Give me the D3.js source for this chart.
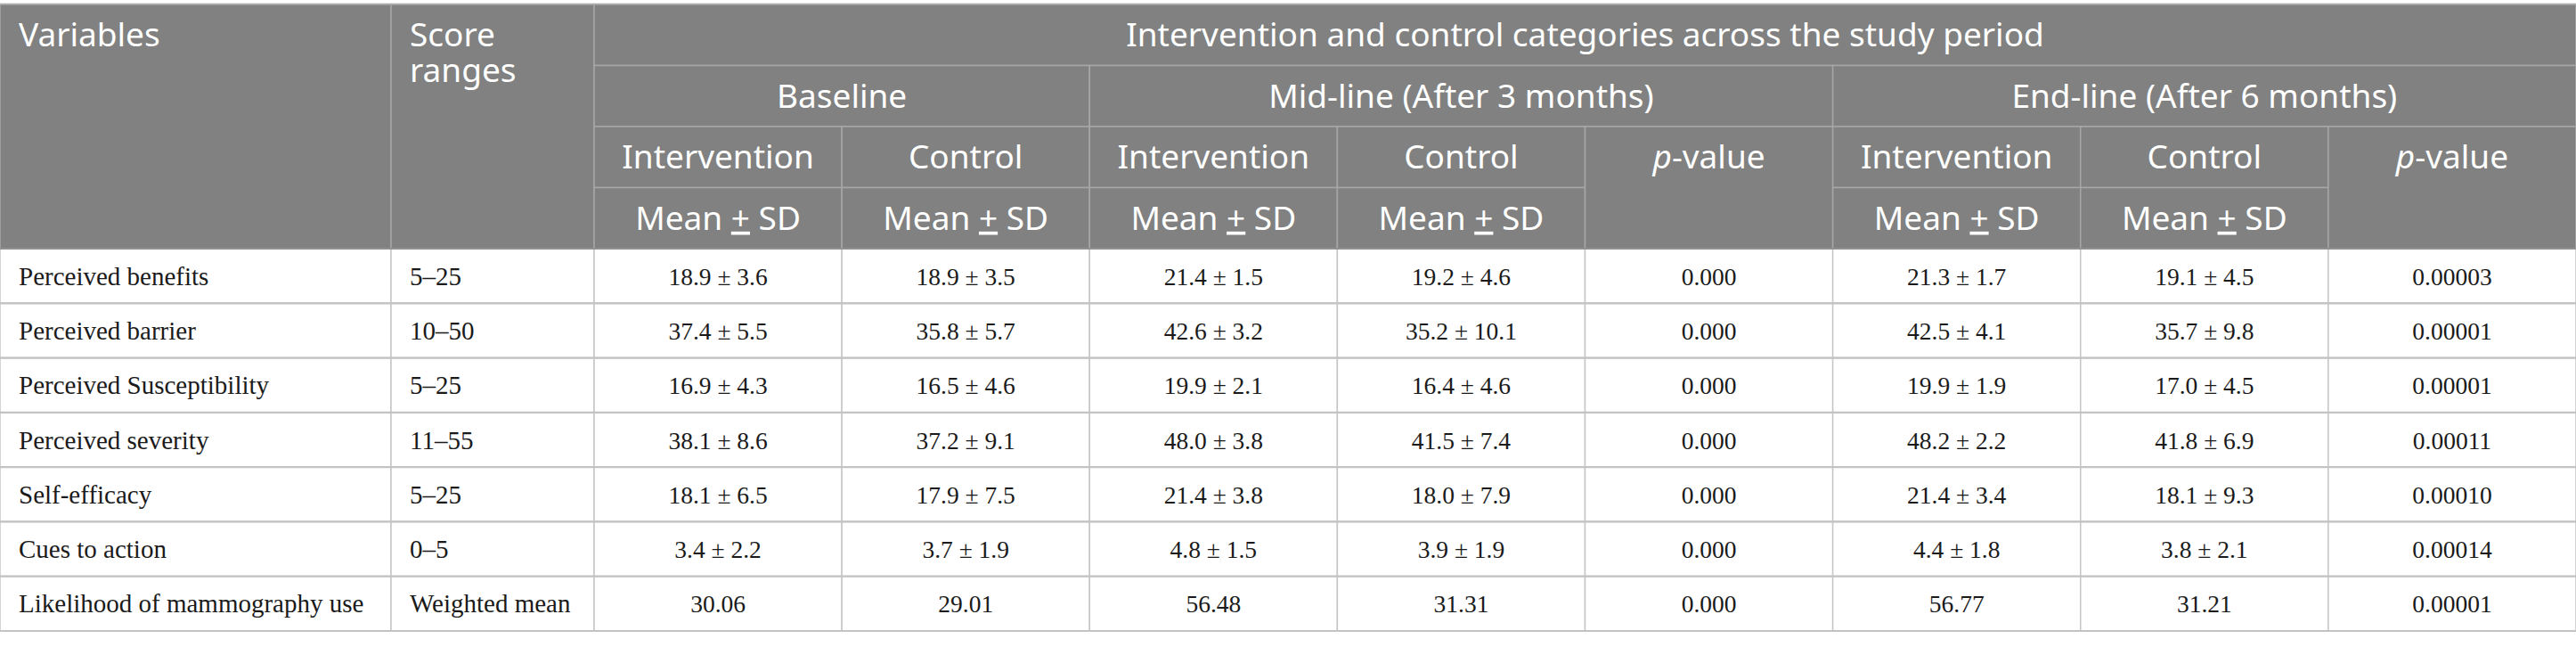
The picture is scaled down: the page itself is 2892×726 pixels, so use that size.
<!DOCTYPE html>
<html>
<head>
<meta charset="utf-8">
<script src="https://cdn.jsdelivr.net/npm/d3@7"></script>
<style>
  html, body { margin: 0; padding: 0; background: #fff; }
  svg { display: block; }
</style>
</head>
<body>
<div id="table"></div>
<script>
// --- Table content ---
const variables = [
  'Perceived benefits',
  'Perceived barrier',
  'Perceived Susceptibility',
  'Perceived severity',
  'Self-efficacy',
  'Cues to action',
  'Likelihood of mammography use'
];
const scoreRanges = ['5–25', '10–50', '5–25', '11–55', '5–25', '0–5', 'Weighted mean'];

const baselineIntervention = ['18.9 ± 3.6', '37.4 ± 5.5', '16.9 ± 4.3', '38.1 ± 8.6', '18.1 ± 6.5', '3.4 ± 2.2', '30.06'];
const baselineControl      = ['18.9 ± 3.5', '35.8 ± 5.7', '16.5 ± 4.6', '37.2 ± 9.1', '17.9 ± 7.5', '3.7 ± 1.9', '29.01'];
const midIntervention      = ['21.4 ± 1.5', '42.6 ± 3.2', '19.9 ± 2.1', '48.0 ± 3.8', '21.4 ± 3.8', '4.8 ± 1.5', '56.48'];
const midControl           = ['19.2 ± 4.6', '35.2 ± 10.1', '16.4 ± 4.6', '41.5 ± 7.4', '18.0 ± 7.9', '3.9 ± 1.9', '31.31'];
const midP                 = ['0.000', '0.000', '0.000', '0.000', '0.000', '0.000', '0.000'];
const endIntervention      = ['21.3 ± 1.7', '42.5 ± 4.1', '19.9 ± 1.9', '48.2 ± 2.2', '21.4 ± 3.4', '4.4 ± 1.8', '56.77'];
const endControl           = ['19.1 ± 4.5', '35.7 ± 9.8', '17.0 ± 4.5', '41.8 ± 6.9', '18.1 ± 9.3', '3.8 ± 2.1', '31.21'];
const endP                 = ['0.00003', '0.00001', '0.00001', '0.00011', '0.00010', '0.00014', '0.00001'];

// header labels
const topTitle = 'Intervention and control categories across the study period';
const periods = ['Baseline', 'Mid-line (After 3 months)', 'End-line (After 6 months)'];
const periodSpans = [2, 3, 3];
const subHeads = ['Intervention', 'Control', 'Intervention', 'Control', 'p-value', 'Intervention', 'Control', 'p-value'];

// --- Layout ---
const width = 2892;
const height = 726;
const headTop = 5;
const headRowH = 68.5;
const bodyTop = headTop + headRowH * 4;
const bodyBottom = 708;
const headFont = '"Noto Sans", "Open Sans", sans-serif';
const bodyFont = '"Liberation Serif", "Times New Roman", serif';
const headSize = 37;
const labelSize = 29;   // first two body columns
const numSize = 27.5;   // numeric body columns

const svg = d3.create('svg')
    .attr('width', width)
    .attr('height', height);

// column edges: two label columns, then eight equal data columns
const dataCols = d3.scaleBand()
    .domain(d3.range(8))
    .range([667, width])
    .paddingInner(0);
const colEdges = [0, 439].concat(d3.range(8).map(i => dataCols(i)), [width]);
const colX = i => colEdges[i];
const colW = (i, span = 1) => colEdges[i + span] - colEdges[i];

const y = d3.scaleBand()
    .domain(d3.range(variables.length))
    .range([bodyTop, bodyBottom]);

// --- Header ---
const headCells = [
  { r: 0, c: 0, rs: 4, cs: 1, lines: ['Variables'], align: 'left' },
  { r: 0, c: 1, rs: 4, cs: 1, lines: ['Score', 'ranges'], align: 'left' },
  { r: 0, c: 2, rs: 1, cs: 8, lines: [topTitle], align: 'middle' }
];
let pc = 2;
periods.forEach((p, i) => {
  headCells.push({ r: 1, c: pc, rs: 1, cs: periodSpans[i], lines: [p], align: 'middle' });
  pc += periodSpans[i];
});
subHeads.forEach((s, i) => {
  const isP = s === 'p-value';
  headCells.push({ r: 2, c: i + 2, rs: isP ? 2 : 1, cs: 1, lines: [s], align: 'middle', p: isP });
  if (!isP) headCells.push({ r: 3, c: i + 2, rs: 1, cs: 1, lines: ['Mean ± SD'], align: 'middle', pm: true });
});

const head = svg.append('g').attr('class', 'head');

head.append('rect')
    .attr('x', 0).attr('y', headTop - 1.5)
    .attr('width', width).attr('height', headRowH * 4 + 1.5)
    .attr('fill', '#c9c9c9');

head.selectAll('rect.cell')
  .data(headCells)
  .join('rect')
    .attr('class', 'cell')
    .attr('x', d => colX(d.c))
    .attr('y', d => headTop + d.r * headRowH)
    .attr('width', d => colW(d.c, d.cs))
    .attr('height', d => d.rs * headRowH)
    .attr('fill', '#808180')
    .attr('stroke', '#a6a7a6')
    .attr('stroke-width', 1.5);

const textX = d => d.align === 'left' ? colX(d.c) + 21 : colX(d.c) + colW(d.c, d.cs) / 2;

// one text per line so wrapped header labels stay separate
const headLines = [];
headCells.forEach(d => d.lines.forEach((l, i) => headLines.push({ cell: d, line: l, i })));

const headText = head.selectAll('text')
  .data(headLines)
  .join('text')
    .attr('font-family', headFont)
    .attr('font-size', headSize)
    .attr('fill', '#ffffff')
    .attr('text-anchor', d => d.cell.align === 'left' ? 'start' : 'middle')
    .attr('x', d => textX(d.cell))
    .attr('y', d => headTop + d.cell.r * headRowH + 47.3 + d.i * 40);

headText.each(function(d) {
  const t = d3.select(this);
  if (d.cell.p) {
    t.append('tspan').attr('font-style', 'italic').text('p');
    t.append('tspan').text('-value');
  } else if (d.cell.pm) {
    t.append('tspan').text('Mean ');
    t.append('tspan').attr('text-decoration', 'underline').text('+');
    t.append('tspan').text(' SD');
  } else {
    t.text(d.line);
  }
});

// --- Body ---
const columns = [variables, scoreRanges, baselineIntervention, baselineControl,
  midIntervention, midControl, midP, endIntervention, endControl, endP];

const bodyCells = [];
variables.forEach((v, r) => {
  columns.forEach((col, c) => bodyCells.push({ r, c, text: col[r] }));
});

const body = svg.append('g').attr('class', 'body');

body.selectAll('rect')
  .data(bodyCells)
  .join('rect')
    .attr('x', d => colX(d.c))
    .attr('y', d => y(d.r))
    .attr('width', d => colW(d.c))
    .attr('height', y.bandwidth())
    .attr('fill', '#ffffff')
    .attr('stroke', '#c6c6c6')
    .attr('stroke-width', 1.5);

// slightly heavier row rules
body.selectAll('line')
  .data(d3.range(variables.length + 1))
  .join('line')
    .attr('x1', 0).attr('x2', width)
    .attr('y1', i => i < variables.length ? y(i) : bodyBottom)
    .attr('y2', i => i < variables.length ? y(i) : bodyBottom)
    .attr('stroke', '#c3c3c3')
    .attr('stroke-width', 2.2);

body.selectAll('text')
  .data(bodyCells)
  .join('text')
    .attr('font-family', bodyFont)
    .attr('font-size', d => d.c < 2 ? labelSize : numSize)
    .attr('fill', '#1a1a1a')
    .attr('text-anchor', d => d.c < 2 ? 'start' : 'middle')
    .attr('x', d => d.c < 2 ? colX(d.c) + 21 : colX(d.c) + colW(d.c) / 2)
    .attr('y', d => y(d.r) + y.bandwidth() / 2 + 10)
    .text(d => d.text);

// header bottom edge over the first body rule
svg.append('line')
    .attr('x1', 0).attr('x2', width)
    .attr('y1', bodyTop).attr('y2', bodyTop)
    .attr('stroke', '#808180')
    .attr('stroke-width', 1.5);

document.querySelector('#table').append(svg.node());
</script>
</body>
</html>
